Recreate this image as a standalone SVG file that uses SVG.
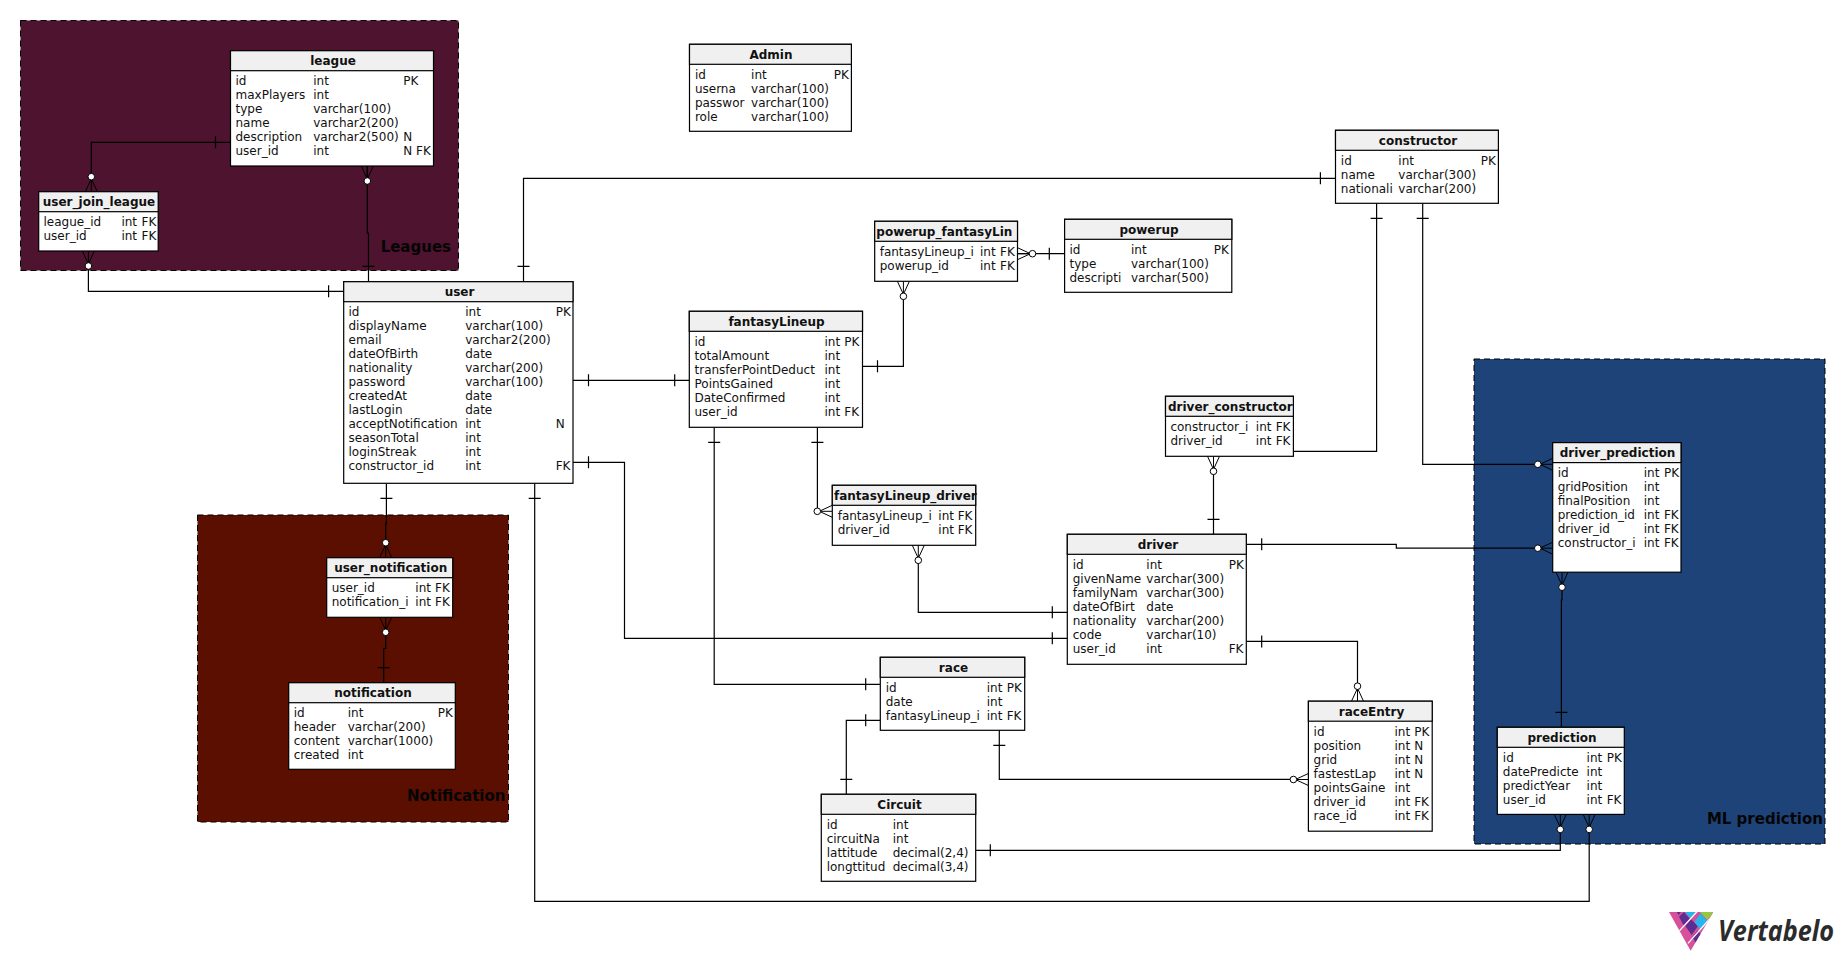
<svg xmlns="http://www.w3.org/2000/svg" width="1844" height="961" viewBox="0 0 1844 961">
<style>
text{font-family:"DejaVu Sans","Liberation Sans",sans-serif;font-size:12px;fill:#111}
.h{font-weight:bold;text-anchor:middle}
.hs{font-weight:bold}
.area{stroke:#000;stroke-width:1;stroke-dasharray:6 4}
.al{font-weight:bold;font-size:15px;text-anchor:end;fill:#050505}
.box{fill:#fff;stroke:#000;stroke-width:1.2}
.head{fill:#f0f0f0;stroke:#000;stroke-width:1.2}
.c{fill:none;stroke:#000;stroke-width:1.2}
.leg{fill:none;stroke:#000;stroke-width:1}
.dot{fill:#fff;stroke:#000;stroke-width:1}
</style>
<defs>
<g id="crow"><path class="leg" d="M-6 0L0-13L6 0M0 0V-12"/><circle class="dot" cx="0" cy="-15" r="3.3"/></g>
<clipPath id="tri"><polygon points="27,36 160,36 92,152"/></clipPath>
</defs>
<rect width="1844" height="961" fill="#fff"/>
<g id="areas">
<g id="area-leagues"><rect class="area" x="20.5" y="20.5" width="438" height="250" fill="#4d132f"/><text class="al" x="451" y="252">Leagues</text></g>
<g id="area-notification"><rect class="area" x="197.5" y="515" width="311" height="307" fill="#5a0f00"/><text class="al" x="505.5" y="801">Notification</text></g>
<g id="area-ml"><rect class="area" x="1474" y="359" width="351" height="485" fill="#1d4379"/><text class="al" x="1823" y="824">ML prediction</text></g>
</g>
<g id="connectors">
<path class="c" d="M230.5 142.3H91.3V178M215.5 136.3V148.3"/>
<path class="c" d="M367.3 166V233H368.5V281.7M362.5 266.3H374.5"/>
<path class="c" d="M343.7 291.3H88.4V266M328.6 285.3V297.3"/>
<path class="c" d="M523.5 281.7V178.3H1335.5M517.5 266.3H529.5M1320.4 172.3V184.3"/>
<path class="c" d="M1376.6 203.3V451.3H1293.4M1370.6 218.3H1382.6"/>
<path class="c" d="M1422.7 203.3V464.3H1538M1416.7 218.3H1428.7"/>
<path class="c" d="M1213.5 472V534.3M1207.5 519.3H1219.5"/>
<path class="c" d="M817.4 427.3V511.3H820M811.4 442.3H823.4"/>
<path class="c" d="M918.3 560V612.3H1067.3M1052.3 606.3V618.3"/>
<path class="c" d="M573 462.3H624.5V638.3H1067.3M588.5 456.3V468.3M1052.3 632.3V644.3"/>
<path class="c" d="M573 380.3H689.3M588.5 374.3V386.3M674.7 374.3V386.3"/>
<path class="c" d="M714.2 427.3V684.3H880.3M708.2 442.3H720.2M865.7 678.3V690.3"/>
<path class="c" d="M846.3 794.3V720.3H880.3M840.3 779.3H852.3M865.7 714.3V726.3"/>
<path class="c" d="M999.3 730.3V779.3H1293.4M993.3 745.3H1005.3"/>
<path class="c" d="M1246.3 641.4H1357.5V686M1261.7 635.4V647.4"/>
<path class="c" d="M1246.3 544.3H1396.3V548.2H1538M1261.7 538.3V550.3"/>
<path class="c" d="M1562 588V600H1561.4V727.3M1555.4 712.4H1567.4"/>
<path class="c" d="M975.7 850.3H1560.3V830M990.3 844.3V856.3"/>
<path class="c" d="M534.7 483.3V901.4H1589.2V830M528.7 498.3H540.7"/>
<path class="c" d="M386.4 483.3V523.3H385.7V542M380.4 498.3H392.4"/>
<path class="c" d="M385.7 633V648.3H383.7V682.7M377.7 667.7H389.7"/>
<path class="c" d="M1017.5 253.7H1064.6M1049.3 247.7V259.7"/>
<path class="c" d="M903.4 296V366.3H862.5M877.5 360.3V372.3"/>
<use href="#crow" transform="translate(91.3 191.7)"/>
<use href="#crow" transform="translate(367.3 166) rotate(180)"/>
<use href="#crow" transform="translate(88.4 251) rotate(180)"/>
<use href="#crow" transform="translate(1552.8 464.3) rotate(-90)"/>
<use href="#crow" transform="translate(1552.8 548.2) rotate(-90)"/>
<use href="#crow" transform="translate(1213.5 456.3) rotate(180)"/>
<use href="#crow" transform="translate(832.3 511.3) rotate(-90)"/>
<use href="#crow" transform="translate(918.3 545.3) rotate(180)"/>
<use href="#crow" transform="translate(1308.4 779.5) rotate(-90)"/>
<use href="#crow" transform="translate(1357.5 701.2)"/>
<use href="#crow" transform="translate(1562 572.2) rotate(180)"/>
<use href="#crow" transform="translate(1560.3 814.4) rotate(180)"/>
<use href="#crow" transform="translate(1589.2 814.4) rotate(180)"/>
<use href="#crow" transform="translate(385.7 557.7)"/>
<use href="#crow" transform="translate(385.7 617.3) rotate(180)"/>
<use href="#crow" transform="translate(1017.5 253.7) rotate(90)"/>
<use href="#crow" transform="translate(903.4 281.3) rotate(180)"/>
</g>
<g id="league"><rect class="box" x="230.5" y="50.7" width="203" height="115.3"/><rect class="head" x="230.5" y="50.7" width="203" height="20"/>
<text class="h" x="333" y="65.3">league</text>
<text x="235.5" y="85.2">id</text><text x="313.2" y="85.2">int</text><text x="403.3" y="85.2">PK</text>
<text x="235.5" y="99.2">maxPlayers</text><text x="313.2" y="99.2">int</text>
<text x="235.5" y="113.2">type</text><text x="313.2" y="113.2">varchar(100)</text>
<text x="235.5" y="127.2">name</text><text x="313.2" y="127.2">varchar2(200)</text>
<text x="235.5" y="141.2">description</text><text x="313.2" y="141.2">varchar2(500)</text><text x="403.3" y="141.2">N</text>
<text x="235.5" y="155.2">user_id</text><text x="313.2" y="155.2">int</text><text x="403.3" y="155.2">N FK</text></g>
<g id="user_join_league"><rect class="box" x="38.7" y="191.7" width="119.5" height="59.3"/><rect class="head" x="38.7" y="191.7" width="119.5" height="20"/>
<text class="h" x="99" y="206.3">user_join_league</text>
<text x="43.5" y="226.2">league_id</text><text x="121.4" y="226.2">int</text><text x="141.5" y="226.2">FK</text>
<text x="43.5" y="240.2">user_id</text><text x="121.4" y="240.2">int</text><text x="141.5" y="240.2">FK</text></g>
<g id="user"><rect class="box" x="343.7" y="281.7" width="229.3" height="201.6"/><rect class="head" x="343.7" y="281.7" width="229.3" height="20"/>
<text class="h" x="459.5" y="296.3">user</text>
<text x="348.5" y="316.2">id</text><text x="465.2" y="316.2">int</text><text x="555.7" y="316.2">PK</text>
<text x="348.5" y="330.2">displayName</text><text x="465.2" y="330.2">varchar(100)</text>
<text x="348.5" y="344.2">email</text><text x="465.2" y="344.2">varchar2(200)</text>
<text x="348.5" y="358.2">dateOfBirth</text><text x="465.2" y="358.2">date</text>
<text x="348.5" y="372.2">nationality</text><text x="465.2" y="372.2">varchar(200)</text>
<text x="348.5" y="386.2">password</text><text x="465.2" y="386.2">varchar(100)</text>
<text x="348.5" y="400.2">createdAt</text><text x="465.2" y="400.2">date</text>
<text x="348.5" y="414.2">lastLogin</text><text x="465.2" y="414.2">date</text>
<text x="348.5" y="428.2">acceptNotification</text><text x="465.2" y="428.2">int</text><text x="555.7" y="428.2">N</text>
<text x="348.5" y="442.2">seasonTotal</text><text x="465.2" y="442.2">int</text>
<text x="348.5" y="456.2">loginStreak</text><text x="465.2" y="456.2">int</text>
<text x="348.5" y="470.2">constructor_id</text><text x="465.2" y="470.2">int</text><text x="555.7" y="470.2">FK</text></g>
<g id="user_notification"><rect class="box" x="326.7" y="557.7" width="126" height="59.6"/><rect class="head" x="326.7" y="557.7" width="126" height="20"/>
<text class="h" x="390.7" y="572.3">user_notification</text>
<text x="331.7" y="592.2">user_id</text><text x="415.3" y="592.2">int</text><text x="435" y="592.2">FK</text>
<text x="331.7" y="606.2">notification_i</text><text x="415.3" y="606.2">int</text><text x="435" y="606.2">FK</text></g>
<g id="notification"><rect class="box" x="288.7" y="682.7" width="166.6" height="86.6"/><rect class="head" x="288.7" y="682.7" width="166.6" height="20"/>
<text class="h" x="373" y="697.3">notification</text>
<text x="293.7" y="717.2">id</text><text x="347.7" y="717.2">int</text><text x="437.7" y="717.2">PK</text>
<text x="293.7" y="731.2">header</text><text x="347.7" y="731.2">varchar(200)</text>
<text x="293.7" y="745.2">content</text><text x="347.7" y="745.2">varchar(1000)</text>
<text x="293.7" y="759.2">created</text><text x="347.7" y="759.2">int</text></g>
<g id="Admin"><rect class="box" x="689.5" y="44.3" width="161.9" height="87"/><rect class="head" x="689.5" y="44.3" width="161.9" height="20"/>
<text class="h" x="771" y="58.9">Admin</text>
<text x="694.9" y="78.8">id</text><text x="751.1" y="78.8">int</text><text x="833.8" y="78.8">PK</text>
<text x="694.9" y="92.8">userna</text><text x="751.1" y="92.8">varchar(100)</text>
<text x="694.9" y="106.8">passwor</text><text x="751.1" y="106.8">varchar(100)</text>
<text x="694.9" y="120.8">role</text><text x="751.1" y="120.8">varchar(100)</text></g>
<g id="powerup_fantasyLin"><rect class="box" x="874.7" y="221.3" width="142.8" height="60"/><rect class="head" x="874.7" y="221.3" width="142.8" height="20"/>
<text class="hs" x="876.3" y="235.9">powerup_fantasyLin</text>
<text x="879.7" y="255.8">fantasyLineup_i</text><text x="980" y="255.8">int</text><text x="1000" y="255.8">FK</text>
<text x="879.7" y="269.8">powerup_id</text><text x="980" y="269.8">int</text><text x="1000" y="269.8">FK</text></g>
<g id="powerup"><rect class="box" x="1064.6" y="219.3" width="167.2" height="73"/><rect class="head" x="1064.6" y="219.3" width="167.2" height="20"/>
<text class="h" x="1149" y="233.9">powerup</text>
<text x="1069.5" y="253.8">id</text><text x="1131" y="253.8">int</text><text x="1213.8" y="253.8">PK</text>
<text x="1069.5" y="267.8">type</text><text x="1131" y="267.8">varchar(100)</text>
<text x="1069.5" y="281.8">descripti</text><text x="1131" y="281.8">varchar(500)</text></g>
<g id="fantasyLineup"><rect class="box" x="689.3" y="311.3" width="173.2" height="116"/><rect class="head" x="689.3" y="311.3" width="173.2" height="20"/>
<text class="h" x="776.5" y="325.9">fantasyLineup</text>
<text x="694.5" y="345.8">id</text><text x="824.5" y="345.8">int</text><text x="844.3" y="345.8">PK</text>
<text x="694.5" y="359.8">totalAmount</text><text x="824.5" y="359.8">int</text>
<text x="694.5" y="373.8">transferPointDeduct</text><text x="824.5" y="373.8">int</text>
<text x="694.5" y="387.8">PointsGained</text><text x="824.5" y="387.8">int</text>
<text x="694.5" y="401.8">DateConfirmed</text><text x="824.5" y="401.8">int</text>
<text x="694.5" y="415.8">user_id</text><text x="824.5" y="415.8">int</text><text x="844.3" y="415.8">FK</text></g>
<g id="fantasyLineup_driver"><rect class="box" x="832.3" y="485.3" width="143.4" height="60"/><rect class="head" x="832.3" y="485.3" width="143.4" height="20"/>
<text class="hs" x="834" y="499.9">fantasyLineup_driver</text>
<text x="837.7" y="519.8">fantasyLineup_i</text><text x="938.3" y="519.8">int</text><text x="957.7" y="519.8">FK</text>
<text x="837.7" y="533.8">driver_id</text><text x="938.3" y="533.8">int</text><text x="957.7" y="533.8">FK</text></g>
<g id="constructor"><rect class="box" x="1335.5" y="130.3" width="162.9" height="73"/><rect class="head" x="1335.5" y="130.3" width="162.9" height="20"/>
<text class="h" x="1418" y="144.9">constructor</text>
<text x="1340.8" y="164.8">id</text><text x="1398.3" y="164.8">int</text><text x="1480.7" y="164.8">PK</text>
<text x="1340.8" y="178.8">name</text><text x="1398.3" y="178.8">varchar(300)</text>
<text x="1340.8" y="192.8">nationali</text><text x="1398.3" y="192.8">varchar(200)</text></g>
<g id="driver_constructor"><rect class="box" x="1165.5" y="396.3" width="127.9" height="60"/><rect class="head" x="1165.5" y="396.3" width="127.9" height="20"/>
<text class="hs" x="1168" y="410.9">driver_constructor</text>
<text x="1170.4" y="430.8">constructor_i</text><text x="1255.8" y="430.8">int</text><text x="1275.7" y="430.8">FK</text>
<text x="1170.4" y="444.8">driver_id</text><text x="1255.8" y="444.8">int</text><text x="1275.7" y="444.8">FK</text></g>
<g id="driver"><rect class="box" x="1067.3" y="534.3" width="179" height="130"/><rect class="head" x="1067.3" y="534.3" width="179" height="20"/>
<text class="h" x="1158" y="548.9">driver</text>
<text x="1072.7" y="568.8">id</text><text x="1146.3" y="568.8">int</text><text x="1228.7" y="568.8">PK</text>
<text x="1072.7" y="582.8">givenName</text><text x="1146.3" y="582.8">varchar(300)</text>
<text x="1072.7" y="596.8">familyNam</text><text x="1146.3" y="596.8">varchar(300)</text>
<text x="1072.7" y="610.8">dateOfBirt</text><text x="1146.3" y="610.8">date</text>
<text x="1072.7" y="624.8">nationality</text><text x="1146.3" y="624.8">varchar(200)</text>
<text x="1072.7" y="638.8">code</text><text x="1146.3" y="638.8">varchar(10)</text>
<text x="1072.7" y="652.8">user_id</text><text x="1146.3" y="652.8">int</text><text x="1228.7" y="652.8">FK</text></g>
<g id="race"><rect class="box" x="880.3" y="657.3" width="144.4" height="73"/><rect class="head" x="880.3" y="657.3" width="144.4" height="20"/>
<text class="h" x="953.5" y="671.9">race</text>
<text x="885.7" y="691.8">id</text><text x="986.7" y="691.8">int</text><text x="1006.7" y="691.8">PK</text>
<text x="885.7" y="705.8">date</text><text x="986.7" y="705.8">int</text>
<text x="885.7" y="719.8">fantasyLineup_i</text><text x="986.7" y="719.8">int</text><text x="1006.7" y="719.8">FK</text></g>
<g id="Circuit"><rect class="box" x="821.3" y="794.3" width="154.4" height="87"/><rect class="head" x="821.3" y="794.3" width="154.4" height="20"/>
<text class="h" x="899.5" y="808.9">Circuit</text>
<text x="826.7" y="828.8">id</text><text x="892.7" y="828.8">int</text>
<text x="826.7" y="842.8">circuitNa</text><text x="892.7" y="842.8">int</text>
<text x="826.7" y="856.8">lattitude</text><text x="892.7" y="856.8">decimal(2,4)</text>
<text x="826.7" y="870.8">longttitud</text><text x="892.7" y="870.8">decimal(3,4)</text></g>
<g id="raceEntry"><rect class="box" x="1308.4" y="701.2" width="123.8" height="130"/><rect class="head" x="1308.4" y="701.2" width="123.8" height="20"/>
<text class="h" x="1371.5" y="715.8">raceEntry</text>
<text x="1313.6" y="735.7">id</text><text x="1394.5" y="735.7">int</text><text x="1414.2" y="735.7">PK</text>
<text x="1313.6" y="749.7">position</text><text x="1394.5" y="749.7">int</text><text x="1414.2" y="749.7">N</text>
<text x="1313.6" y="763.7">grid</text><text x="1394.5" y="763.7">int</text><text x="1414.2" y="763.7">N</text>
<text x="1313.6" y="777.7">fastestLap</text><text x="1394.5" y="777.7">int</text><text x="1414.2" y="777.7">N</text>
<text x="1313.6" y="791.7">pointsGaine</text><text x="1394.5" y="791.7">int</text>
<text x="1313.6" y="805.7">driver_id</text><text x="1394.5" y="805.7">int</text><text x="1414.2" y="805.7">FK</text>
<text x="1313.6" y="819.7">race_id</text><text x="1394.5" y="819.7">int</text><text x="1414.2" y="819.7">FK</text></g>
<g id="driver_prediction"><rect class="box" x="1552.7" y="442.6" width="128.3" height="129.6"/><rect class="head" x="1552.7" y="442.6" width="128.3" height="20"/>
<text class="h" x="1617.5" y="457.2">driver_prediction</text>
<text x="1557.7" y="477.1">id</text><text x="1643.7" y="477.1">int</text><text x="1663.9" y="477.1">PK</text>
<text x="1557.7" y="491.1">gridPosition</text><text x="1643.7" y="491.1">int</text>
<text x="1557.7" y="505.1">finalPosition</text><text x="1643.7" y="505.1">int</text>
<text x="1557.7" y="519.1">prediction_id</text><text x="1643.7" y="519.1">int</text><text x="1663.9" y="519.1">FK</text>
<text x="1557.7" y="533.1">driver_id</text><text x="1643.7" y="533.1">int</text><text x="1663.9" y="533.1">FK</text>
<text x="1557.7" y="547.1">constructor_i</text><text x="1643.7" y="547.1">int</text><text x="1663.9" y="547.1">FK</text></g>
<g id="prediction"><rect class="box" x="1497.3" y="727.3" width="127" height="87.1"/><rect class="head" x="1497.3" y="727.3" width="127" height="20"/>
<text class="h" x="1562" y="741.9">prediction</text>
<text x="1502.8" y="761.8">id</text><text x="1586.6" y="761.8">int</text><text x="1606.7" y="761.8">PK</text>
<text x="1502.8" y="775.8">datePredicte</text><text x="1586.6" y="775.8">int</text>
<text x="1502.8" y="789.8">predictYear</text><text x="1586.6" y="789.8">int</text>
<text x="1502.8" y="803.8">user_id</text><text x="1586.6" y="803.8">int</text><text x="1606.7" y="803.8">FK</text></g>
<g id="logo">
<g transform="translate(1660 900) scale(.33333)"><g clip-path="url(#tri)">
<polygon fill="#d6509a" points="20,30 170,30 92,160"/>
<polygon fill="#5f2d91" points="47,30 66,30 56,46"/>
<polygon fill="#5f2d91" points="72,36 90,57 72,78 57,50"/>
<polygon fill="#27b5ea" points="70,30 112,30 92,56"/>
<polygon fill="#5f2d91" points="93,58 114,78 95,105 76,78"/>
<polygon fill="#27b5ea" points="122,40 142,62 122,90 103,66"/>
<polygon fill="#96c83e" points="114,30 165,30 142,60"/>
<polygon fill="#5f2d91" points="112,92 130,108 110,132 97,112"/>
<path d="M162 42L84 130M112 34L54 97" stroke="#fff" stroke-width="4" fill="none"/>
</g></g>
<text x="1718" y="940.7" textLength="116" lengthAdjust="spacingAndGlyphs" style="font-family:'Open Sans','Noto Sans',sans-serif;font-style:italic;font-weight:700;font-size:28px;fill:#2b2b2b">Vertabelo</text>
</g>
</svg>
